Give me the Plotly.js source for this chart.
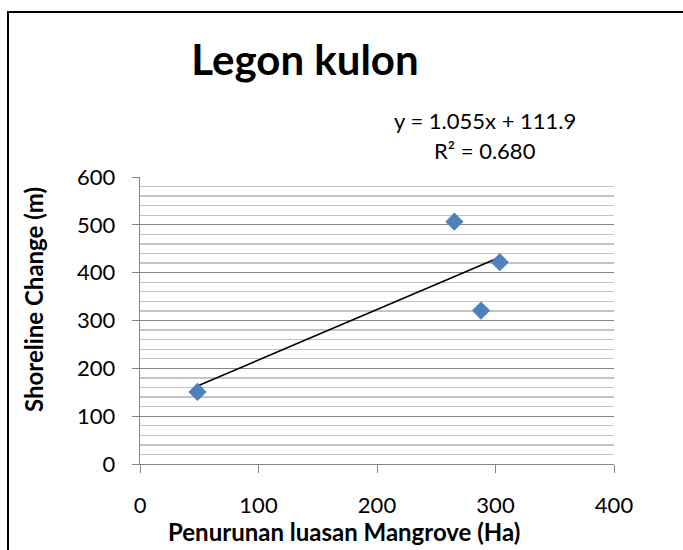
<!DOCTYPE html>
<html>
<head>
<meta charset="utf-8">
<script src="https://cdn.plot.ly/plotly-3.0.1.min.js"></script>
<style>
  html, body { margin: 0; padding: 0; background: #fff; overflow: hidden; }
  #wrap { position: relative; width: 683px; height: 550px; }
  #chart { position: absolute; left: 0; top: 0; width: 683px; height: 550px; }
  #frame { position: absolute; left: 7px; top: 11px; width: 700px; height: 600px;
           border-left: 2px solid #000; border-top: 2px solid #000; pointer-events: none; }
</style>
</head>
<body>
<div id="wrap">
  <div id="chart"></div>
  <div id="frame"></div>
</div>
<script>
// ---- data ----
const chartTitle = "Legon kulon";
const xTitle = "Penurunan luasan Mangrove (Ha)";
const yTitle = "Shoreline Change (m)";
const mangroveLoss = [48.5, 265.3, 287.8, 303.6];       // Ha
const shorelineChange = [150.7, 506.5, 320.8, 421.9];   // m
const trendSlope = 1.055;
const trendIntercept = 111.9;
const equationText = "y = 1.055x + 111.9";
const r2Text = "R² = 0.680";
const xTickVals = [0, 100, 200, 300, 400];
const yTickVals = [0, 100, 200, 300, 400, 500, 600];

// ---- trendline from data extent ----
const xMin = Math.min(...mangroveLoss);
const xMax = Math.max(...mangroveLoss);
const trendX = [xMin, xMax];
const trendY = trendX.map(v => trendSlope * v + trendIntercept);

const font = "Lato, 'Open Sans', sans-serif";
const axisGray = "#868686";

const traces = [
  {
    x: trendX, y: trendY, type: "scatter", mode: "lines",
    line: { color: "#000000", width: 1.5 }, hoverinfo: "skip", showlegend: false
  },
  {
    x: mangroveLoss, y: shorelineChange, type: "scatter", mode: "markers",
    marker: { symbol: "diamond", size: 14, color: "#4f81bd", line: { width: 0 } },
    showlegend: false
  }
];

const layout = {
  width: 683, height: 550,
  margin: { l: 140, r: 69, t: 177, b: 86 },
  paper_bgcolor: "#ffffff", plot_bgcolor: "#ffffff",
  font: { family: font, color: "#000000", size: 22 },
  showlegend: false,
  title: {
    text: "<b>" + chartTitle + "</b>",
    font: { family: font, size: 42, color: "#000000" },
    x: 305 / 683, xref: "container", xanchor: "center",
    y: 1 - 60 / 550, yref: "container", yanchor: "middle"
  },
  xaxis: {
    range: [0, 400], tickvals: xTickVals, ticktext: xTickVals.map(String),
    ticks: "outside", ticklen: 8, tickcolor: axisGray, tickwidth: 1,
    showline: true, linecolor: axisGray, linewidth: 1.3,
    showgrid: false, zeroline: false,
    ticklabelstandoff: 13,
    tickfont: { family: font, size: 22, color: "#000000" }
  },
  yaxis: {
    range: [0, 600], tickvals: yTickVals, ticktext: yTickVals.map(String),
    ticks: "outside", ticklen: 7, tickcolor: axisGray, tickwidth: 1,
    showline: true, linecolor: axisGray, linewidth: 1.3,
    showgrid: true, gridcolor: axisGray, gridwidth: 1.3,
    zeroline: false,
    minor: { dtick: 20, showgrid: true, gridcolor: "#c4c4c4", gridwidth: 1.3, ticks: "" },
    ticklabelstandoff: 12,
    tickfont: { family: font, size: 22, color: "#000000" }
  },
  annotations: [
    { text: equationText, xref: "paper", yref: "paper", x: (485 - 140) / 474, y: (464 - 120) / 287,
      xanchor: "center", yanchor: "middle", showarrow: false,
      font: { family: font, size: 22, color: "#000000" } },
    { text: r2Text, xref: "paper", yref: "paper", x: (485 - 140) / 474, y: (464 - 150) / 287,
      xanchor: "center", yanchor: "middle", showarrow: false,
      font: { family: font, size: 22, color: "#000000" } },
    { text: "<b>" + yTitle + "</b>", xref: "paper", yref: "paper", x: (33 - 140) / 474, y: (464 - 300) / 287,
      xanchor: "center", yanchor: "middle", textangle: -90, showarrow: false,
      font: { family: font, size: 24, color: "#000000" } },
    { text: "<b>" + xTitle + "</b>", xref: "paper", yref: "paper", x: (344 - 140) / 474, y: (464 - 531) / 287,
      xanchor: "center", yanchor: "middle", showarrow: false,
      font: { family: font, size: 24, color: "#000000" } }
  ]
};

Plotly.newPlot("chart", traces, layout, { displayModeBar: false, staticPlot: true });
</script>
</body>
</html>
